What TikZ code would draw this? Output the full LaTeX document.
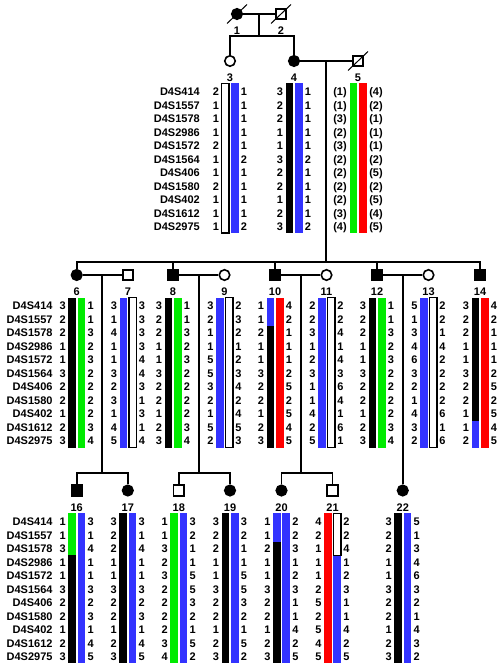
\documentclass[tikz,border=0pt]{standalone}
\usepackage{fontspec}
\setmainfont{Liberation Sans}
\usepackage{tikz}
\usetikzlibrary{positioning, calc}

\definecolor{hapblue}{RGB}{51,51,255}
\definecolor{hapgreen}{RGB}{0,235,0}
\definecolor{hapred}{RGB}{255,0,0}

% one column of alleles, one per marker row
\newcommand{\hapcol}[4]{%
	\foreach \al [count=\row] in {#4}
		\node[allele] (#1-\row) at (#2,#3+13.5*\row-13.5) {\al};}

% both bars and both allele columns of one person
\newcommand{\haplotype}[7]{%
	\path[#4] (#2-8.5,#3-8.4) rectangle (#2-0.9,#3+141.5);
	\path[#5] (#2+0.9,#3-8.4) rectangle (#2+8.5,#3+141.5);
	\hapcol{#1l}{#2-14}{#3}{#6}
	\hapcol{#1r}{#2+14}{#3}{#7}}

\newcommand{\markernames}[3]{%
	\foreach \mk [count=\row] in {D4S414,D4S1557,D4S1578,D4S2986,D4S1572,D4S1564,D4S406,D4S1580,D4S402,D4S1612,D4S2975}
		\node[marker] (#1-\row) at (#2,#3+13.5*\row-13.5) {\mk};}

\begin{document}
\begin{tikzpicture}[x=1pt, y=-1pt]
	\tikzstyle{allele} = [font=\fontsize{11}{13}\selectfont\bfseries, inner sep=0pt, text height=7.9pt, text depth=0pt]
	\tikzstyle{marker} = [allele, anchor=east]
	\tikzstyle{idlabel} = [allele]
	\tikzstyle{person} = [draw, line width=1.6pt, minimum size=10.5pt, inner sep=0pt, fill=white]
	\tikzstyle{male} = [person, rectangle]
	\tikzstyle{female} = [person, circle]
	\tikzstyle{affected} = [fill=black]
	\tikzstyle{pedline} = [line width=1.8pt]
	\tikzstyle{slash} = [line width=1pt]
	\tikzstyle{bluebar} = [fill=hapblue]
	\tikzstyle{greenbar} = [fill=hapgreen]
	\tikzstyle{redbar} = [fill=hapred]
	\tikzstyle{blackbar} = [fill=black]
	\tikzstyle{openbar} = [draw, fill=white, line width=1.5pt]

	\useasboundingbox (0,0) rectangle (500,669);

	% generation I and II
	\node[female, affected] (i1) at (237,14) {};
	\node[male] (i2) at (281,14) {};
	\node[female] (i3) at (230,61) {};
	\node[female, affected] (i4) at (294,61) {};
	\node[male] (i5) at (358,61) {};

	% generation III
	\node[female, affected] (i6) at (76.7,275) {};
	\node[male] (i7) at (128,275) {};
	\node[male, affected] (i8) at (173,275) {};
	\node[female] (i9) at (224.5,275) {};
	\node[male, affected] (i10) at (275,275) {};
	\node[female] (i11) at (326.5,275) {};
	\node[male, affected] (i12) at (377,275) {};
	\node[female] (i13) at (428.5,275) {};
	\node[male, affected] (i14) at (480,275) {};

	% generation IV
	\node[male, affected] (i16) at (76.7,490.5) {};
	\node[female, affected] (i17) at (127.8,490.5) {};
	\node[male] (i18) at (178.8,490.5) {};
	\node[female, affected] (i19) at (230,490.5) {};
	\node[female, affected] (i20) at (281.5,490.5) {};
	\node[male] (i21) at (332.5,490.5) {};
	\node[female, affected] (i22) at (402.75,490.5) {};

	\foreach \p in {1,...,14,16,17,18,19,20,21,22}
		\node[idlabel, below=6.8pt of i\p] (n\p) {\p};

	\foreach \p in {i1,i2,i5}
		\draw[slash] ([shift={(-10,9.5)}]\p.center) -- ([shift={(10,-9.5)}]\p.center);

	% lines of descent
	\coordinate (m12) at ($(i1)!0.5!(i2)$);
	\coordinate (m45) at ($(i4)!0.5!(i5)$);
	\coordinate (m67) at ($(i6)!0.5!(i7)$);
	\coordinate (m89) at ($(i8)!0.5!(i9)$);
	\coordinate (m1011) at ($(i10)!0.5!(i11)$);
	\coordinate (m1213) at ($(i12)!0.5!(i13)$);
	\path (m12) ++(0,22) coordinate (s12);
	\path (m45) ++(0,201) coordinate (s45);
	\path (m67) ++(0,198) coordinate (s67);
	\path (m89) ++(0,198) coordinate (s89);
	\path (m1011) ++(0,198) coordinate (s1011);

	\draw[pedline] (i1) -- (i2);
	\draw[pedline] (i4) -- (i5);
	\draw[pedline] (i6) -- (i7);
	\draw[pedline] (i8) -- (i9);
	\draw[pedline] (i10) -- (i11);
	\draw[pedline] (i12) -- (i13);

	\draw[pedline] (m12) -- (s12);
	\draw[pedline] (i3) |- (s12) -| (i4);
	\draw[pedline] (m45) -- (s45);
	\draw[pedline] (i6) |- (s45) -| (i14);
	\foreach \p in {i8,i10,i12}
		\draw[pedline] (\p) -- (\p |- s45);
	\draw[pedline] (m67) -- (s67);
	\draw[pedline] (i16) |- (s67) -| (i17);
	\draw[pedline] (m89) -- (s89);
	\draw[pedline] (i18) |- (s89) -| (i19);
	\draw[pedline] (m1011) -- (s1011);
	\draw[pedline] (i20) |- (s1011) -| (i21);
	\draw[pedline] (m1213) -- (i22);

	% haplotypes, generation II
	\markernames{g2}{200}{91.7}
	\haplotype{a3}{230}{91.7}{openbar}{bluebar}{2,1,1,1,2,1,1,2,1,1,1}{1,1,1,1,1,2,1,1,1,1,2}
	\haplotype{a4}{294}{91.7}{blackbar}{bluebar}{3,2,2,1,1,3,2,2,1,2,3}{1,1,1,1,1,2,1,1,1,1,2}
	\path[greenbar] (349.5,83.3) rectangle (357.1,233.2);
	\path[redbar] (358.9,83.3) rectangle (366.5,233.2);
	\hapcol{a5l}{340}{91.7}{(1),(1),(3),(2),(3),(2),(2),(2),(2),(3),(4)}
	\hapcol{a5r}{376}{91.7}{(4),(2),(1),(1),(1),(2),(5),(2),(5),(4),(5)}

	% haplotypes, generation III
	\markernames{g3}{52.7}{306}
	\haplotype{a6}{76.7}{306}{blackbar}{greenbar}{3,2,2,1,1,3,2,2,1,2,3}{1,1,3,2,3,2,2,2,2,3,4}
	\haplotype{a7}{128}{306}{bluebar}{openbar}{3,1,4,1,1,3,2,3,1,4,5}{3,3,3,3,4,4,3,1,3,1,4}
	\haplotype{a8}{173}{306}{blackbar}{greenbar}{3,2,2,1,1,3,2,2,1,2,3}{1,1,3,2,3,2,2,2,2,3,4}
	\haplotype{a9}{224.5}{306}{bluebar}{openbar}{3,2,1,1,5,5,3,2,1,5,2}{2,3,2,1,2,3,4,2,4,5,3}
	\haplotype{a10}{275}{306}{blackbar}{redbar}{1,1,2,1,1,3,2,2,1,2,3}{4,2,1,1,1,2,5,2,5,4,5}
	\path[bluebar] (266.5,297.6) rectangle (274.1,326.25);
	\haplotype{a11}{326.5}{306}{bluebar}{openbar}{2,2,3,1,2,3,1,1,4,2,5}{2,2,4,1,4,3,6,4,1,6,1}
	\haplotype{a12}{377}{306}{blackbar}{greenbar}{3,2,2,1,1,3,2,2,1,2,3}{1,1,3,2,3,2,2,2,2,3,4}
	\haplotype{a13}{428.5}{306}{bluebar}{openbar}{5,1,3,4,6,3,2,1,4,3,2}{2,2,1,4,2,2,2,2,6,1,6}
	\haplotype{a14}{480}{306}{blackbar}{redbar}{3,2,2,1,1,3,2,2,1,1,2}{4,2,1,1,1,2,5,2,5,4,5}
	\path[bluebar] (471.5,420.75) rectangle (479.1,447.5);

	% haplotypes, generation IV
	\markernames{g4}{52.7}{521.7}
	\haplotype{a16}{76.7}{521.7}{blackbar}{bluebar}{1,1,3,1,1,3,2,2,1,2,3}{3,1,4,1,1,3,2,3,1,4,5}
	\path[greenbar] (68.2,513.3) rectangle (75.8,555.45);
	\haplotype{a17}{127.8}{521.7}{blackbar}{bluebar}{3,2,2,1,1,3,2,2,1,2,3}{3,1,4,1,1,3,2,3,1,4,5}
	\haplotype{a18}{178.8}{521.7}{greenbar}{bluebar}{1,1,3,2,3,2,2,2,2,3,4}{3,2,1,1,5,5,3,2,1,5,2}
	\haplotype{a19}{230}{521.7}{blackbar}{bluebar}{3,2,2,1,1,3,2,2,1,2,3}{3,2,1,1,5,5,3,2,1,5,2}
	\haplotype{a20}{281.5}{521.7}{blackbar}{bluebar}{1,1,2,1,1,3,2,2,1,2,3}{2,2,3,1,2,3,1,1,4,2,5}
	\path[bluebar] (273,513.3) rectangle (280.6,542);
	\haplotype{a21}{332.5}{521.7}{redbar}{bluebar}{4,2,1,1,1,2,5,2,5,4,5}{2,2,4,1,2,3,1,1,4,2,5}
	\path[openbar] (333.4,513.3) rectangle (341,555.45);
	\haplotype{a22}{402.75}{521.7}{blackbar}{bluebar}{3,2,2,1,1,3,2,2,1,2,3}{5,1,3,4,6,3,2,1,4,3,2}
\end{tikzpicture}
\end{document}
